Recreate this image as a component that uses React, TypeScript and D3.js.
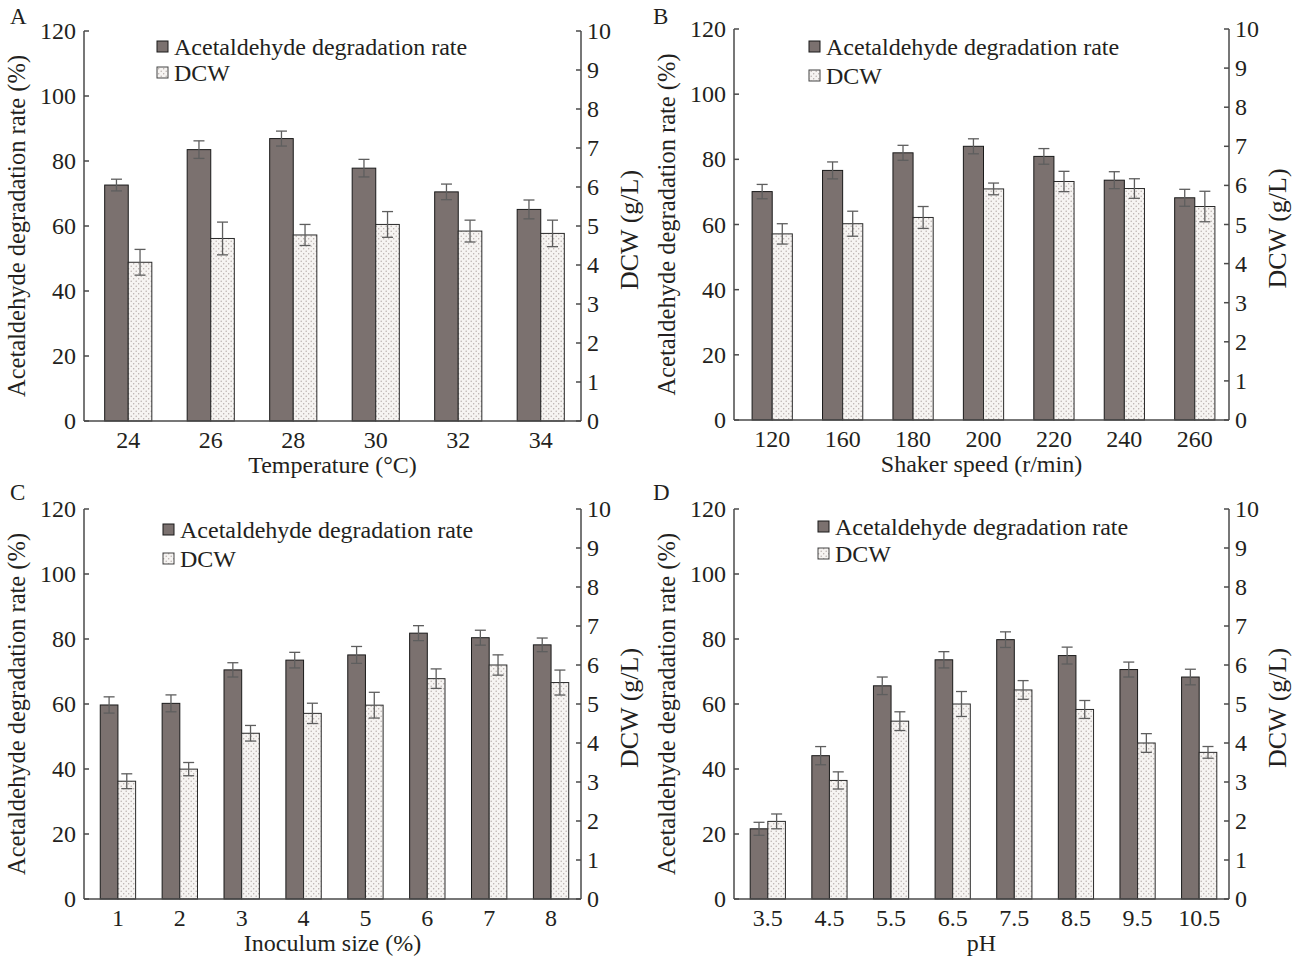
import React from "react";
import * as d3 from "d3";

// ---------- DATA ----------
const tempCats = ["24", "26", "28", "30", "32", "34"];
const tempRate = [72.6, 83.5, 86.9, 77.8, 70.5, 65.1];
const tempRateErr = [1.8, 2.7, 2.3, 2.7, 2.4, 2.9];
const tempDcw = [4.07, 4.68, 4.77, 5.04, 4.87, 4.81];
const tempDcwErr = [0.33, 0.42, 0.27, 0.33, 0.28, 0.34];

const speedCats = ["120", "160", "180", "200", "220", "240", "260"];
const speedRate = [70.1, 76.6, 82.0, 84.0, 80.9, 73.6, 68.2];
const speedRateErr = [2.2, 2.6, 2.3, 2.3, 2.4, 2.6, 2.6];
const speedDcw = [4.76, 5.02, 5.18, 5.91, 6.1, 5.92, 5.46];
const speedDcwErr = [0.26, 0.32, 0.28, 0.15, 0.26, 0.25, 0.39];

const inocCats = ["1", "2", "3", "4", "5", "6", "7", "8"];
const inocRate = [59.7, 60.2, 70.5, 73.5, 75.1, 81.8, 80.4, 78.2];
const inocRateErr = [2.5, 2.6, 2.2, 2.4, 2.6, 2.3, 2.3, 2.1];
const inocDcw = [3.02, 3.33, 4.25, 4.76, 4.97, 5.65, 6.0, 5.55];
const inocDcwErr = [0.19, 0.17, 0.2, 0.26, 0.33, 0.25, 0.26, 0.32];

const phCats = ["3.5", "4.5", "5.5", "6.5", "7.5", "8.5", "9.5", "10.5"];
const phRate = [21.6, 44.1, 65.6, 73.6, 79.8, 74.9, 70.6, 68.3];
const phRateErr = [2.0, 2.8, 2.7, 2.5, 2.4, 2.6, 2.3, 2.4];
const phDcw = [1.99, 3.04, 4.56, 5.0, 5.36, 4.86, 4.0, 3.76];
const phDcwErr = [0.19, 0.22, 0.24, 0.32, 0.24, 0.23, 0.24, 0.15];

const leftTicks = [0, 20, 40, 60, 80, 100, 120];
const rightTicks = [0, 1, 2, 3, 4, 5, 6, 7, 8, 9, 10];

const seriesRateName = "Acetaldehyde degradation rate";
const seriesDcwName = "DCW";
const leftTitle = "Acetaldehyde degradation rate (%)";
const rightTitle = "DCW (g/L)";

// ---------- LAYOUT ----------
const FONT = "'Liberation Serif', 'Times New Roman', serif";
const TXT = "#231f20";
const AXIS = "#4a4a4a";
const DARK = "#7b716f";

const panels = [
  { id: "A", cats: tempCats, rate: tempRate, rateErr: tempRateErr, dcw: tempDcw, dcwErr: tempDcwErr,
    xTitle: "Temperature (°C)", left: 84, right: 581, top: 31, bottom: 421,
    letter: [10, 24], legendX: 157, legendY: [47, 73] },
  { id: "B", cats: speedCats, rate: speedRate, rateErr: speedRateErr, dcw: speedDcw, dcwErr: speedDcwErr,
    xTitle: "Shaker speed (r/min)", left: 734, right: 1229, top: 29, bottom: 420,
    letter: [653, 24], legendX: 809, legendY: [47, 76] },
  { id: "C", cats: inocCats, rate: inocRate, rateErr: inocRateErr, dcw: inocDcw, dcwErr: inocDcwErr,
    xTitle: "Inoculum size (%)", left: 84, right: 581, top: 509, bottom: 899,
    letter: [10, 500], legendX: 163, legendY: [530, 559] },
  { id: "D", cats: phCats, rate: phRate, rateErr: phRateErr, dcw: phDcw, dcwErr: phDcwErr,
    xTitle: "pH", left: 734, right: 1229, top: 509, bottom: 899,
    letter: [653, 500], legendX: 818, legendY: [527, 554] },
];

function Panel({ p }: { p: any }) {
  const x = d3.scaleBand<string>().domain(p.cats).range([p.left + 3, p.right + 1]).paddingInner(0).paddingOuter(0);
  const yL = d3.scaleLinear().domain([0, 120]).range([p.bottom, p.top]);
  const yR = d3.scaleLinear().domain([0, 10]).range([p.bottom, p.top]);
  const bw = x.bandwidth() / 3.5;
  const cap = 5.5;
  const midY = (p.top + p.bottom) / 2;
  return (
    <g fontFamily={FONT} fill={TXT}>
      <text x={p.letter[0]} y={p.letter[1]} fontSize={23}>{p.id}</text>
      {/* bars */}
      {p.cats.map((c: string, i: number) => {
        const cx = (x(c) as number) + x.bandwidth() / 2;
        return (
          <g key={c}>
            <rect x={cx - bw} y={yL(p.rate[i])} width={bw} height={p.bottom - yL(p.rate[i])}
              fill={DARK} stroke="#1a1a1a" strokeWidth={1} />
            <rect x={cx} y={yR(p.dcw[i])} width={bw} height={p.bottom - yR(p.dcw[i])}
              fill={`url(#dots)`} stroke="#2a2a2a" strokeWidth={1} />
          </g>
        );
      })}
      {/* error bars */}
      {p.cats.map((c: string, i: number) => {
        const cx = (x(c) as number) + x.bandwidth() / 2;
        const x1 = cx - bw / 2;
        const x2 = cx + bw / 2;
        const a1 = yL(p.rate[i] + p.rateErr[i]);
        const b1 = yL(p.rate[i] - p.rateErr[i]);
        const a2 = yR(p.dcw[i] + p.dcwErr[i]);
        const b2 = yR(p.dcw[i] - p.dcwErr[i]);
        return (
          <g key={"e" + c} stroke="#5e5e5e" strokeWidth={1.3}>
            <line x1={x1} x2={x1} y1={a1} y2={b1} />
            <line x1={x1 - cap} x2={x1 + cap} y1={a1} y2={a1} />
            <line x1={x1 - cap} x2={x1 + cap} y1={b1} y2={b1} />
            <line x1={x2} x2={x2} y1={a2} y2={b2} />
            <line x1={x2 - cap} x2={x2 + cap} y1={a2} y2={a2} />
            <line x1={x2 - cap} x2={x2 + cap} y1={b2} y2={b2} />
          </g>
        );
      })}
      {/* axes */}
      <g stroke={AXIS} strokeWidth={1.5}>
        <line x1={p.left} x2={p.left} y1={p.top} y2={p.bottom} />
        <line x1={p.right} x2={p.right} y1={p.top} y2={p.bottom} />
        <line x1={p.left} x2={p.right} y1={p.bottom} y2={p.bottom} />
        {leftTicks.map((t) => (
          <line key={"lt" + t} x1={p.left} x2={p.left + 5} y1={yL(t)} y2={yL(t)} />
        ))}
        {rightTicks.map((t) => (
          <line key={"rt" + t} x1={p.right - 5} x2={p.right} y1={yR(t)} y2={yR(t)} />
        ))}
      </g>
      {leftTicks.map((t) => (
        <text key={"ll" + t} x={p.left - 8} y={yL(t) + 8} fontSize={24} textAnchor="end">{t}</text>
      ))}
      {rightTicks.map((t) => (
        <text key={"rl" + t} x={p.right + 6} y={yR(t) + 8} fontSize={24}>{t}</text>
      ))}
      {p.cats.map((c: string) => (
        <text key={"xl" + c} x={(x(c) as number) + x.bandwidth() / 2} y={p.bottom + 27} fontSize={24} textAnchor="middle">{c}</text>
      ))}
      <text x={(p.left + p.right) / 2} y={p.bottom + 52} fontSize={24} textAnchor="middle">{p.xTitle}</text>
      <text transform={`translate(${p.left - 59},${midY}) rotate(-90)`} fontSize={24.5} textAnchor="middle">{leftTitle}</text>
      <text transform={`translate(${p.right + 57},${midY + 4}) rotate(-90)`} fontSize={26} textAnchor="middle">{rightTitle}</text>
      {/* legend */}
      <rect x={p.legendX} y={p.legendY[0] - 6} width={11} height={11} fill={DARK} stroke="#1a1a1a" strokeWidth={1} />
      <text x={p.legendX + 17} y={p.legendY[0] + 8} fontSize={24}>{seriesRateName}</text>
      <rect x={p.legendX} y={p.legendY[1] - 6} width={11} height={11} fill="url(#dots)" stroke="#444" strokeWidth={1} />
      <text x={p.legendX + 17} y={p.legendY[1] + 8} fontSize={24}>{seriesDcwName}</text>
    </g>
  );
}

export default function App() {
  return (
    <svg width={1300} height={959} style={{ position: "absolute", left: 0, top: 0, background: "#fff" }}>
      <defs>
        <pattern id="dots" width={5} height={5} patternUnits="userSpaceOnUse">
          <rect width={5} height={5} fill="#f6f4f2" />
          <circle cx={1.2} cy={1.2} r={0.7} fill="#b3aaa8" />
          <circle cx={3.7} cy={3.7} r={0.7} fill="#b3aaa8" />
        </pattern>
      </defs>
      {panels.map((p) => (
        <Panel key={p.id} p={p} />
      ))}
    </svg>
  );
}
